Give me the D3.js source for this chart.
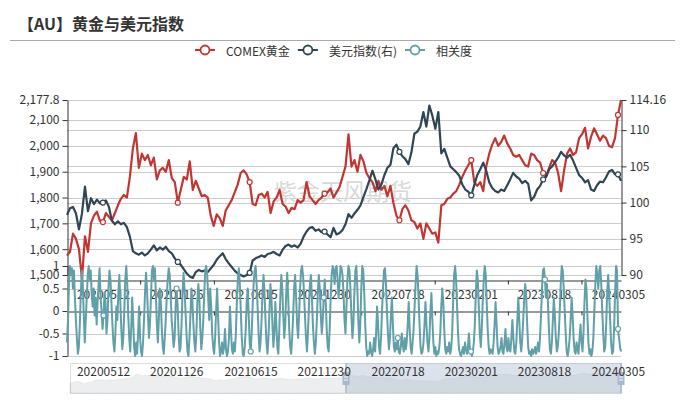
<!DOCTYPE html>
<html><head><meta charset="utf-8">
<script src="https://cdn.jsdelivr.net/npm/d3@7"></script>
<style>
body{margin:0;background:#fff}
svg{display:block}
text{font-family:"Microsoft YaHei","Noto Sans CJK SC","Noto Sans",sans-serif}
</style>
</head><body>
<svg id="c" width="685" height="400"></svg>
<script>
const title = "【AU】黄金与美元指数";
const watermark = "紫金天风期货";
const seriesNames = ["COMEX黄金", "美元指数(右)", "相关度"];
const seriesColors = ["#c23531", "#2f4554", "#61a0a8"];
const startDate = "20200203";
const endDate = "20240312";
const tickLabels = ["20200512","20201126","20210615","20211230","20220718","20230201","20230818","20240305"];
const goldTicks = [1500,1600,1700,1800,1900,2000,2100,2177.8];
const usdTicks = [90,95,100,105,110,114.16];
const corrTicks = [1,0.5,0,-0.5,-1];

const gold = [1575,1590,1660,1640,1600,1485,1650,1590,1700,1730,1745,1710,1705,1740,1725,1712,1740,1770,1795,1810,
1800,1880,1990,2050,1915,1970,1945,1965,1925,1955,1870,1905,1915,1900,1945,1875,1860,1780,1830,1880,
1870,1940,1830,1865,1835,1805,1810,1800,1730,1690,1735,1720,1690,1750,1770,1790,1820,1850,1895,1905,
1890,1860,1775,1770,1810,1815,1800,1822,1740,1785,1800,1830,1775,1765,1740,1760,1755,1790,1780,1790,
1860,1805,1790,1775,1790,1800,1815,1820,1835,1800,1820,1840,1880,1920,2045,1920,1945,1900,1965,1940,
1895,1875,1860,1825,1865,1830,1845,1805,1845,1780,1730,1712,1755,1770,1750,1712,1705,1680,1700,1640,
1700,1680,1660,1665,1625,1770,1775,1795,1800,1815,1825,1850,1880,1905,1925,1945,1860,1845,1860,1825,
1920,1970,2005,2030,2000,2015,2040,2010,1990,1965,1958,1965,1945,1925,1920,1970,1965,1945,1935,1895,
1880,1915,1945,1935,1895,1825,1905,1970,1990,1965,1975,2030,2045,2070,1990,2035,2068,2045,2020,2040,
2030,2000,1995,2030,2120,2177.8];

const usd = [98.3,99.2,99.4,98.5,96.3,98.5,102.2,98.8,100.6,99.8,100.4,99.9,100.0,100.3,99.4,97.5,97.0,97.4,97.0,97.2,
96.6,95.3,93.3,93.0,92.8,93.1,92.7,93.0,93.5,94.1,93.4,93.8,93.5,93.9,93.3,93.0,92.3,91.8,91.4,90.8,
90.2,89.8,89.6,90.4,90.7,90.5,90.6,90.4,90.9,91.4,92.1,92.6,93.0,92.2,91.6,91.1,90.6,90.2,90.0,89.8,
90.0,90.3,92.0,92.3,92.5,92.7,92.5,92.9,93.0,93.2,92.9,92.7,93.5,94.0,94.2,93.9,94.1,93.8,94.3,95.3,
96.0,96.5,96.6,96.1,96.3,95.9,96.0,95.6,95.2,96.5,95.6,95.8,96.2,97.0,98.4,97.9,98.5,99.0,99.6,100.8,
101.9,103.1,104.4,103.2,101.8,102.5,103.8,104.8,105.2,107.5,108.0,107.0,106.4,106.0,105.3,106.9,109.5,109.8,110.5,112.5,
110.5,113.4,112.0,110.2,112.5,106.8,107.4,106.2,105.0,104.6,104.2,103.7,102.5,101.8,101.5,101.0,102.4,103.8,104.6,105.5,
104.4,102.8,102.0,101.6,101.4,101.8,101.6,102.4,103.2,104.1,103.6,103.3,102.7,103.0,102.6,100.3,100.8,101.8,102.3,103.2,
103.6,104.6,105.0,105.6,106.2,107.0,106.5,106.2,106.6,105.8,104.8,103.8,103.4,102.8,103.1,101.8,101.6,102.4,102.9,102.8,
103.5,104.3,104.5,103.9,103.9,103.0];

const corr = [
-0.7,-0.2,0.6,1.0,0.8,0.95,0.5,0.9,0.3,-0.2,-0.6,-0.95,-0.8,-0.3,0.4,0.9,0.6,-0.1,-0.7,-0.2,
0.3,0.8,1.0,0.7,0.9,0.4,0.1,0.5,-0.1,0.3,-0.3,0.2,0.6,0.95,0.3,0.0,-0.4,-0.1,0.4,0.2,
-0.5,-0.2,0.5,0.9,0.7,0.2,-0.3,-0.7,-0.9,-0.5,0.1,-0.2,0.4,0.8,0.2,-0.4,-0.85,-0.6,0.0,0.7,
1.0,0.6,-0.1,-0.6,-0.9,-0.4,0.3,-0.2,-0.8,-1.0,-0.7,-0.95,-0.5,0.1,
-0.6,-0.9,-1.0,-0.7,-0.2,0.4,0.85,0.5,-0.1,-0.6,-0.3,0.3,0.9,1.0,0.7,0.95,0.4,-0.3,-0.7,-0.2,
0.5,0.2,-0.4,-0.8,-0.95,-0.6,-0.2,0.3,0.7,0.95,0.8,0.3,-0.2,-0.5,-0.8,-0.6,0.1,0.5,0.1,-0.5,
-0.9,-0.8,-0.3,0.4,0.85,0.5,0.0,-0.5,-0.9,-1.0,-0.6,-0.1,0.5,0.2,-0.3,-0.7,-0.9,-0.5,0.2,0.6,
0.3,-0.4,-0.85,-0.6,-0.2,0.4,0.9,1.0,0.8,0.3,-0.2,0.5,0.1,-0.5,
-0.8,-0.95,-0.6,0.0,0.5,-0.1,-0.7,-1.0,-0.9,-0.7,-0.95,-0.8,-0.4,-0.85,-1.0,-0.9,-0.6,0.1,-0.4,-0.85,
-0.95,-0.7,-0.9,-0.5,0.2,0.7,0.95,0.6,0.0,-0.6,-0.95,-1.0,-0.8,-0.4,0.2,0.5,-0.1,-0.7,-0.9,-0.5,
0.1,0.6,0.9,1.0,0.6,0.1,-0.5,-0.9,-0.7,-0.2,0.4,0.8,0.4,-0.2,-0.7,-0.95,-0.6,0.0,0.6,0.3,
-0.3,-0.8,-0.5,0.2,-0.3,-0.8,-0.95,-0.4,0.3,0.8,0.5,-0.1,-0.6,-0.3,0.4,0.85,0.3,-0.4,
-0.8,-0.95,-0.6,-0.1,0.5,0.8,0.3,-0.3,-0.6,-0.1,0.5,0.9,1.0,0.8,0.4,-0.1,-0.6,-0.9,-0.5,0.1,
0.6,0.8,0.3,-0.3,-0.7,-0.95,-0.7,-0.2,0.4,0.8,0.5,-0.1,-0.5,-0.2,0.3,0.7,0.2,-0.4,-0.8,-0.9,
-0.4,0.3,0.8,1.0,0.9,0.6,0.95,1.0,0.7,0.3,0.6,1.0,0.95,0.8,0.4,-0.2,-0.5,0.1,0.7,1.0,
0.9,0.5,-0.1,-0.6,-0.3,0.4,0.9,1.0,0.5,-0.2,-0.7,
-0.3,0.5,1.0,0.9,0.4,-0.3,-0.8,-1.0,-0.9,-0.95,-0.7,-0.9,-1.0,-0.85,-0.6,-0.9,-0.5,0.1,-0.3,-0.8,
-0.95,-0.6,0.0,0.5,0.9,0.95,0.6,0.0,-0.5,-0.85,-0.6,-0.1,0.3,-0.3,-0.8,-0.9,-0.7,-0.85,-0.6,-0.9,
-0.95,-0.8,-0.5,-0.75,-0.9,-0.6,-0.85,-0.7,-0.3,0.2,-0.4,-0.8,-0.95,-0.7,-0.4,0.1,0.6,1.0,0.8,0.3,
-0.3,-0.8,-0.95,-0.9,-0.7,-0.3,0.2,-0.3,-0.7,-0.9,-0.6,0.0,0.4,-0.2,-0.7,-0.95,-0.8,-1.0,
-0.9,-0.95,-0.8,-0.5,0.1,0.5,0.2,-0.4,-0.85,-0.95,-0.8,-0.9,-0.7,-0.95,-0.85,-0.5,0.2,0.8,1.0,0.7,
0.1,-0.5,-0.85,-0.95,-1.0,-0.9,-0.8,-0.95,-0.7,-0.85,-0.95,-0.8,-0.5,-0.85,-0.9,-1.0,-0.9,-0.7,-0.3,0.4,
0.9,0.7,0.1,-0.5,-0.8,-0.4,0.2,0.7,1.0,0.8,0.2,-0.4,-0.8,-0.95,-0.85,-0.9,-0.95,-0.7,-0.3,0.2,
-0.3,-0.8,-0.95,-0.9,-0.8,-0.6,-0.9,-0.95,-0.7,-0.4,-0.8,-0.9,-0.6,-0.85,
-0.9,-0.6,-0.2,-0.6,-0.9,-0.95,-0.7,-0.2,0.3,-0.2,-0.7,-0.9,-0.6,-0.2,0.3,0.6,0.3,-0.3,-0.8,-0.95,
-0.9,-1.0,-0.85,-0.95,-0.9,-0.8,-0.95,-0.85,-0.7,-0.9,-0.6,-0.1,0.5,0.9,0.95,0.7,0.3,0.6,0.2,-0.4,
-0.85,-0.95,-0.7,-0.2,0.3,-0.1,-0.6,-0.9,-0.8,-0.5,0.0,0.6,1.0,0.9,0.5,0.0,-0.5,-0.9,-1.0,-0.85,
-0.6,-0.2,0.3,-0.1,-0.6,-0.9,-0.95,-0.7,-0.85,-0.95,-0.6,-0.3,-0.7,
-0.9,-0.5,0.2,0.7,0.5,-0.1,-0.7,-0.95,-0.85,-1.0,-0.9,-0.6,0.0,0.6,1.0,0.8,0.5,0.9,1.0,0.6,
0.0,-0.5,-0.9,-0.8,-0.3,0.4,0.8,0.4,-0.2,-0.7,-0.95,-0.9,-0.4,0.4,1.0,0.9,-0.4,-0.6,-0.8,-0.9];

const svg = d3.select("#c");
const parse = d3.timeParse("%Y%m%d");
const t0 = parse(startDate), t1 = parse(endDate);
const L = 67, R = 621;
const x = d3.scaleTime().domain([t0, t1]).range([L, R]);
const yG = d3.scaleLinear().domain([1500, 2177.8]).range([275, 100]);
const yU = d3.scaleLinear().domain([90, 114.16]).range([275, 100]);
const yC = d3.scaleLinear().domain([-1, 1]).range([356, 266]);
const dateAt = (i, n) => new Date(+t0 + i * (t1 - t0) / (n - 1));
const tickDates = tickLabels.map(parse);
const FONT = '"Microsoft YaHei","Noto Sans CJK SC","Noto Sans",sans-serif';

// title
svg.append("text").attr("x", 18).attr("y", 23).attr("dominant-baseline", "central")
  .attr("font-size", 16).attr("font-weight", "bold").attr("fill", "#333").text(title);
svg.append("line").attr("x1", 10).attr("x2", 675).attr("y1", 40.5).attr("y2", 40.5)
  .attr("stroke", "#aaa").attr("stroke-width", 1);

// legend
let lx = 205;
seriesNames.forEach((name, i) => {
  const g = svg.append("g");
  g.append("line").attr("x1", lx - 10).attr("x2", lx + 10).attr("y1", 50).attr("y2", 50)
    .attr("stroke", seriesColors[i]).attr("stroke-width", 2);
  g.append("circle").attr("cx", lx).attr("cy", 50).attr("r", 4.5).attr("fill", "#fff")
    .attr("stroke", seriesColors[i]).attr("stroke-width", 1.8);
  const t = g.append("text").attr("x", lx + 21).attr("y", 50).attr("dominant-baseline", "central")
    .attr("font-size", 12).attr("fill", "#333").text(name);
  const w = t.node().getComputedTextLength();
  lx = lx + 21 + w + 18;
});

// gridlines
const grid = svg.append("g").attr("stroke", "#ccc").attr("stroke-width", 1);
goldTicks.forEach(v => grid.append("line").attr("x1", L).attr("x2", R)
  .attr("y1", Math.round(yG(v)) + 0.5).attr("y2", Math.round(yG(v)) + 0.5));
usdTicks.forEach(v => grid.append("line").attr("x1", L).attr("x2", R)
  .attr("y1", Math.round(yU(v)) + 0.5).attr("y2", Math.round(yU(v)) + 0.5));
corrTicks.forEach(v => { if (v !== 0) grid.append("line").attr("x1", L).attr("x2", R)
  .attr("y1", Math.round(yC(v)) + 0.5).attr("y2", Math.round(yC(v)) + 0.5); });

// watermark
svg.append("text").attr("x", 343).attr("y", 190).attr("text-anchor", "middle")
  .attr("dominant-baseline", "central").attr("font-size", 23).attr("fill", "#d9d9d9")
  .text(watermark);

// axes
const axisColor = "#333";
function styleAxis(g) {
  g.selectAll("path.domain").attr("stroke", axisColor);
  g.selectAll(".tick line").attr("stroke", axisColor);
  g.selectAll(".tick text").attr("fill", "#333").attr("font-size", 12).attr("font-family", FONT);
}
const ayG = svg.append("g").attr("transform", `translate(${L + 0.5},0)`)
  .call(d3.axisLeft(yG).tickValues(goldTicks).tickFormat(d3.format(",")).tickSize(5).tickSizeOuter(0).tickPadding(3));
styleAxis(ayG);
const ayU = svg.append("g").attr("transform", `translate(${R + 0.5},0)`)
  .call(d3.axisRight(yU).tickValues(usdTicks).tickFormat(d => String(d)).tickSize(5).tickSizeOuter(0).tickPadding(3));
styleAxis(ayU);
const ayC = svg.append("g").attr("transform", `translate(${L + 0.5},0)`)
  .call(d3.axisLeft(yC).tickValues(corrTicks).tickFormat(d => String(d)).tickSize(5).tickSizeOuter(0).tickPadding(3));
styleAxis(ayC);

// x axes
const midTicks = tickDates.slice(0, -1).map((d, i) => new Date((+d + +tickDates[i + 1]) / 2));
function xAxisLine(yPos) {
  const g = svg.append("g").attr("transform", `translate(0,${yPos})`)
    .call(d3.axisBottom(x).tickValues(midTicks).tickFormat("").tickSize(4).tickSizeOuter(0));
  styleAxis(g);
  return g;
}
xAxisLine(280.5);
xAxisLine(Math.round(yC(0)) + 0.5);

// dataZoom slider
const dz = { x0: 70, x1: 621, y0: 363, y1: 393, s0: 346, s1: 621 };
svg.append("rect").attr("x", dz.x0 + 0.5).attr("y", dz.y0 + 0.5).attr("width", dz.x1 - dz.x0)
  .attr("height", dz.y1 - dz.y0).attr("fill", "none").attr("stroke", "#ddd");
const xs = d3.scaleTime().domain([t0, t1]).range([dz.x0, dz.x1]);
const ys = d3.scaleLinear().domain([1080, 2578]).range([dz.y1, dz.y0]);
const shadowArea = d3.area().x((d, i) => xs(dateAt(i, gold.length))).y0(dz.y1).y1(d => ys(d)).curve(d3.curveBasis);
svg.append("path").datum(gold).attr("d", shadowArea)
  .attr("fill", "rgba(47,69,84,0.09)").attr("stroke", "rgba(47,69,84,0.15)").attr("stroke-width", 0.5);
svg.append("rect").attr("x", dz.s0).attr("y", dz.y0).attr("width", dz.s1 - dz.s0)
  .attr("height", dz.y1 - dz.y0).attr("fill", "rgba(167,183,204,0.4)");
[dz.s0, dz.s1].forEach(hx => {
  svg.append("line").attr("x1", hx).attr("x2", hx).attr("y1", dz.y0).attr("y2", dz.y1)
    .attr("stroke", "#a7b7cc").attr("stroke-width", 1.5);
  svg.append("rect").attr("x", hx - 3.5).attr("y", 372).attr("width", 7).attr("height", 13)
    .attr("fill", "#a7b7cc");
  [377, 380].forEach(yy => svg.append("line").attr("x1", hx - 2).attr("x2", hx + 2)
    .attr("y1", yy).attr("y2", yy).attr("stroke", "#fff").attr("stroke-width", 1));
});

// x labels (top and bottom)
[293, 370].forEach(yPos => {
  svg.append("g").selectAll("text").data(tickDates).join("text")
    .attr("x", d => x(d)).attr("y", yPos).attr("text-anchor", "middle")
    .attr("dominant-baseline", "central").attr("font-size", 12).attr("fill", "#333")
    .text((d, i) => tickLabels[i]);
});

// series
function drawSeries(data, yScale, color, width) {
  const n = data.length;
  const line = d3.line().x((d, i) => x(dateAt(i, n))).y(d => yScale(d));
  svg.append("path").datum(data).attr("d", line).attr("fill", "none")
    .attr("stroke", color).attr("stroke-width", width).attr("stroke-linejoin", "round");
  tickDates.forEach(td => {
    const idx = Math.round((td - t0) / (t1 - t0) * (n - 1));
    svg.append("circle").attr("cx", x(dateAt(idx, n))).attr("cy", yScale(data[idx]))
      .attr("r", 2.5).attr("fill", "#fff").attr("stroke", color).attr("stroke-width", 1.2);
  });
}
drawSeries(gold, yG, seriesColors[0], 2.2);
drawSeries(usd, yU, seriesColors[1], 2.2);
drawSeries(corr, yC, seriesColors[2], 2);
</script>
</body></html>
